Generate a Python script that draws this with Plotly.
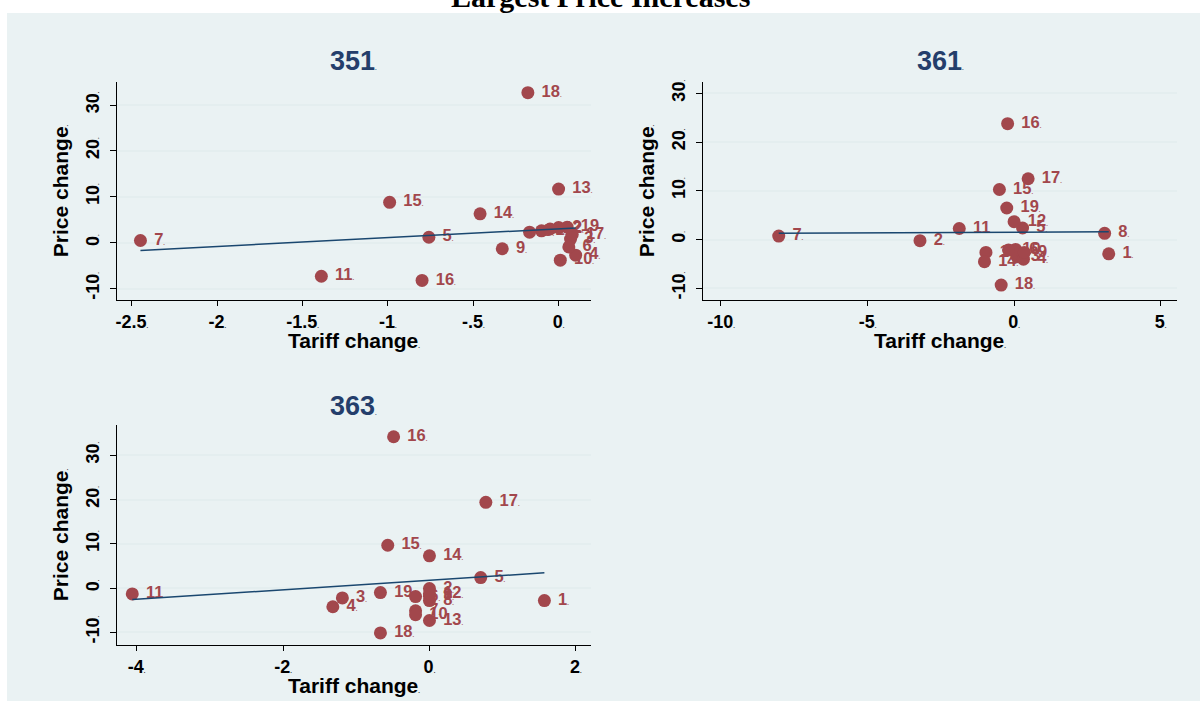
import plotly.graph_objects as go

# ---- data: tariff change (x) and price change (y) per industry, items 1-19 ----
item_labels = list(range(1, 20))

tariff_351 = [-0.10, 0.00, 0.07, 0.10, -0.76, 0.06, -2.45, -0.17, -0.33, 0.01,
              -1.39, -0.05, 0.00, -0.46, -0.99, -0.80, 0.08, -0.18, 0.05]
price_351 = [2.6, 3.3, 0.8, -2.7, 1.2, -0.9, 0.5, 2.3, -1.3, -3.8,
             -7.3, 3.0, 11.7, 6.3, 8.8, -8.2, 1.8, 32.7, 3.4]

tariff_361 = [3.23, -3.21, 0.10, 0.32, 0.29, 0.05, -8.03, 3.09, 0.35, -0.19,
              -1.87, 0.00, -0.96, -1.01, -0.50, -0.22, 0.48, -0.44, -0.25]
price_361 = [-2.9, -0.2, -3.5, -4.0, 2.4, -2.0, 0.75, 1.3, -2.6, -2.1,
             2.3, 3.7, -2.6, -4.5, 10.3, 23.8, 12.5, -9.3, 6.5]

tariff_363 = [1.57, 0.00, -1.19, -1.32, 0.70, -0.19, -0.19, 0.00, 0.00, -0.19,
              -4.06, 0.00, 0.00, 0.00, -0.57, -0.49, 0.77, -0.67, -0.67]
price_363 = [-2.8, -0.1, -2.2, -4.2, 2.4, -1.9, -5.1, -2.8, -1.8, -6.0,
             -1.3, -1.2, -7.3, 7.3, 9.7, 34.2, 19.4, -10.1, -1.0]

# linear fit (intercept, slope) per industry
fit_351 = [3.03, 1.92]
fit_361 = [1.54, 0.03]
fit_363 = [1.78, 1.07]

# tick values and labels
price_ticks = [-10, 0, 10, 20, 30]
xticks_351 = [-2.5, -2, -1.5, -1, -0.5, 0]
xticklabels_351 = ["-2.5", "-2", "-1.5", "-1", "-.5", "0"]
xticks_361 = [-10, -5, 0, 5]
xticklabels_361 = ["-10", "-5", "0", "5"]
xticks_363 = [-4, -2, 0, 2]
xticklabels_363 = ["-4", "-2", "0", "2"]

# ---- styling ----
W, H = 1200, 702
MARKER = "#A2474C"
LINE = "#1A476F"
TITLE_C = "#243E6B"
BG = "#EAF2F3"
GRID = "#E4EEEF"
FONT = "Liberation Sans"
DOT = '<span style="font-size:6px">.</span>'


def lab(s):
    return f"{s}{DOT}"


def fx(p):
    return p / W


def fy(p):
    return 1 - p / H


panels = [
    dict(name="351", x=tariff_351, y=price_351, fit=fit_351,
         xdom=(116, 590), ydom=(80, 299), xr=(-2.588, 0.187), yr=(-12.5, 35.07),
         xt=xticks_351, xtl=xticklabels_351, title_y=59, xtitle_y=339),
    dict(name="361", x=tariff_361, y=price_361, fit=fit_361,
         xdom=(703, 1177), ydom=(80, 299), xr=(-10.6, 5.56), yr=(-12.4, 32.4),
         xt=xticks_361, xtl=xticklabels_361, title_y=59, xtitle_y=339),
    dict(name="363", x=tariff_363, y=price_363, fit=fit_363,
         xdom=(116, 590), ydom=(424, 645), xr=(-4.27, 2.2), yr=(-12.87, 36.9),
         xt=xticks_363, xtl=xticklabels_363, title_y=405, xtitle_y=685),
]

fig = go.Figure()
layout = {}
annotations = []
axis_title_font = dict(family=FONT, size=21, color="black", weight="bold")

for i, p in enumerate(panels, start=1):
    sfx = "" if i == 1 else str(i)
    xa, ya = "x" + sfx, "y" + sfx

    fig.add_trace(go.Scatter(
        x=p["x"], y=p["y"], mode="markers+text",
        text=[" " + lab(v) for v in item_labels], textposition="middle right",
        textfont=dict(family=FONT, size=16.5, color=MARKER, weight="bold"),
        marker=dict(size=13, color=MARKER),
        cliponaxis=False, showlegend=False, xaxis=xa, yaxis=ya,
    ))

    b0, b1 = p["fit"]
    xs = [min(p["x"]), max(p["x"])]
    fig.add_trace(go.Scatter(
        x=xs, y=[b0 + b1 * v for v in xs], mode="lines",
        line=dict(color=LINE, width=1.5), showlegend=False,
        xaxis=xa, yaxis=ya,
    ))

    layout["xaxis" + sfx] = dict(
        domain=[fx(p["xdom"][0]), fx(p["xdom"][1])], range=list(p["xr"]),
        anchor=ya, tickmode="array", tickvals=p["xt"],
        ticktext=[lab(t) for t in p["xtl"]],
        ticks="outside", ticklen=5, tickcolor="black", tickwidth=1,
        showline=True, linecolor="black", linewidth=1,
        showgrid=False, zeroline=False,
        tickfont=dict(family=FONT, size=18, color="black", weight="bold"),
    )
    layout["yaxis" + sfx] = dict(
        domain=[fy(p["ydom"][1]), fy(p["ydom"][0])], range=list(p["yr"]),
        anchor=xa, tickmode="array", tickvals=price_ticks,
        ticktext=[lab(t) for t in price_ticks], tickangle=-90,
        ticks="outside", ticklen=6, tickcolor="black", tickwidth=1,
        ticklabelstandoff=4,
        showline=True, linecolor="black", linewidth=1,
        showgrid=True, gridcolor=GRID, gridwidth=1.5, zeroline=False,
        tickfont=dict(family=FONT, size=18, color="black", weight="bold"),
        title=dict(text=lab("Price change"), standoff=8, font=axis_title_font),
    )

    xc = fx((p["xdom"][0] + p["xdom"][1]) / 2)
    # x-axis title
    annotations.append(dict(
        text=lab("Tariff change"), xref="paper", yref="paper",
        x=xc, y=fy(p["xtitle_y"]), xanchor="center", yanchor="middle",
        showarrow=False, font=axis_title_font,
    ))
    # panel title
    annotations.append(dict(
        text=lab(p["name"]), xref="paper", yref="paper",
        x=xc, y=fy(p["title_y"]),
        xanchor="center", yanchor="middle", showarrow=False,
        font=dict(family=FONT, size=27, color=TITLE_C, weight="bold"),
    ))

# overall title, partly above the top edge
annotations.append(dict(
    text="<b>Largest Price Increases</b>", xref="paper", yref="paper",
    x=0.5, y=fy(13), xanchor="center", yanchor="bottom", showarrow=False,
    font=dict(family="Liberation Serif", size=30, color="black"),
))

fig.update_layout(
    width=W, height=H, margin=dict(l=0, r=0, t=0, b=0),
    paper_bgcolor="white", plot_bgcolor="white",
    annotations=annotations,
    shapes=[dict(type="rect", xref="paper", yref="paper",
                 x0=6 / W, x1=1, y0=1 / H, y1=fy(11),
                 fillcolor=BG, line=dict(width=0), layer="below")],
    **layout,
)

fig.write_html("out.html")
